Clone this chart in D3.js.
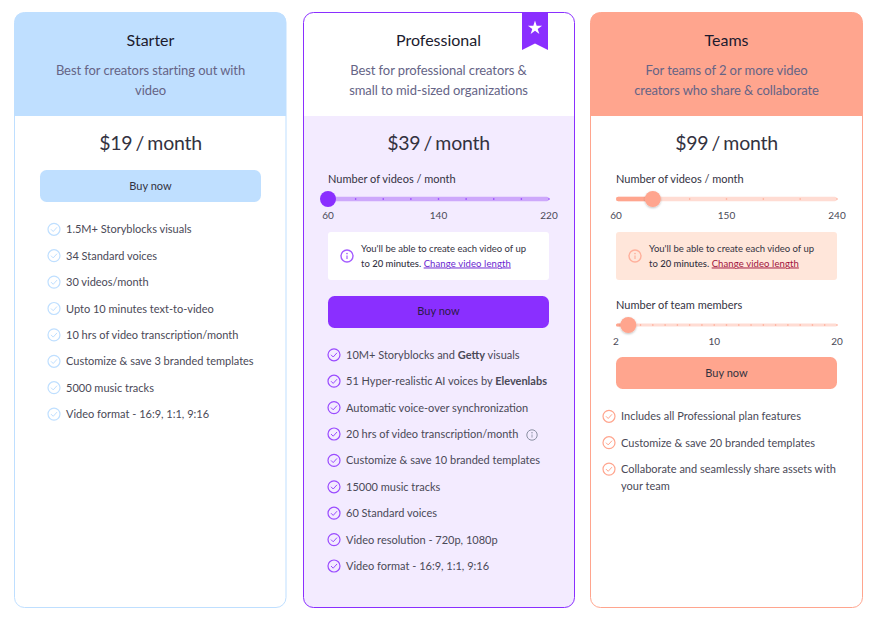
<!DOCTYPE html>
<html><head><meta charset="utf-8">
<script src="https://cdnjs.cloudflare.com/ajax/libs/d3/7.8.5/d3.min.js"></script>
<style>html,body{margin:0;padding:0;background:#fff}svg{display:block;font-family:Lato,sans-serif}</style>
</head><body><svg id="c" width="877" height="618"></svg>
<script>
const planNames = ["Starter","Professional","Teams"];
const planSubtitles = [
 ["Best for creators starting out with","video"],
 ["Best for professional creators &","small to mid-sized organizations"],
 ["For teams of 2 or more video","creators who share & collaborate"]];
const planPrices = ["$19 / month","$39 / month","$99 / month"];
const starterFeatures = ["1.5M+ Storyblocks visuals","34 Standard voices","30 videos/month","Upto 10 minutes text-to-video","10 hrs of video transcription/month","Customize & save 3 branded templates","5000 music tracks","Video format - 16:9, 1:1, 9:16"];
const proFeatures = ["10M+ Storyblocks and |Getty| visuals","51 Hyper-realistic AI voices by |Elevenlabs","Automatic voice-over synchronization","20 hrs of video transcription/month","Customize & save 10 branded templates","15000 music tracks","60 Standard voices","Video resolution - 720p, 1080p","Video format - 16:9, 1:1, 9:16"];
const teamFeatures = [["Includes all Professional plan features"],["Customize & save 20 branded templates"],["Collaborate and seamlessly share assets with","your team"]];
const proVideos = {label:"Number of videos / month",min:60,max:220,step:20,value:60,ticks:[60,140,220]};
const teamVideos = {label:"Number of videos / month",min:60,max:240,step:30,value:90,ticks:[60,150,240]};
const teamMembers = {label:"Number of team members",min:2,max:20,step:1,value:3,ticks:[2,10,20]};

const svg = d3.select("#c");
const defs = svg.append("defs");
const sh = defs.append("filter").attr("id","sh").attr("x","-50%").attr("y","-50%").attr("width","200%").attr("height","200%");
sh.append("feDropShadow").attr("dx",0).attr("dy",1).attr("stdDeviation",1).attr("flood-color","#000").attr("flood-opacity",.25);

const cardX = d3.scaleOrdinal().domain(planNames).range([14.5,303.5,590.5]);
const cardWs = [271.5,271,272];
const cardTop = 12.5, cardBottom = 607.5, headBottom = 116, R = 10;
const roundTop=(x,y,w,h,r)=>`M${x},${y+h}V${y+r}Q${x},${y} ${x+r},${y}H${x+w-r}Q${x+w},${y} ${x+w},${y+r}V${y+h}Z`;
const roundBot=(x,y,w,h,r)=>`M${x},${y}V${y+h-r}Q${x},${y+h} ${x+r},${y+h}H${x+w-r}Q${x+w},${y+h} ${x+w},${y+h-r}V${y}Z`;
const text=(g,x,y,t,size,fill,anchor,weight)=>g.append("text").attr("x",x).attr("y",y).text(t)
  .attr("font-size",size).attr("fill",fill).attr("text-anchor",anchor||"start").attr("font-weight",weight||400);

const styles = [
 {head:"#bfdfff",body:"#fff",border:"#bfdfff",btn:"#bfdfff",check:"#bfdfff"},
 {head:"#fff",body:"#f3ebff",border:"#8a2fff",btn:"#8a2fff",check:"#9a4bff"},
 {head:"#ffa58e",body:"#fff",border:"#ffa58e",btn:"#ffa58e",check:"#ffa58e"}];
const centers=[150.5,438.5,726.5];

planNames.forEach((name,i)=>{
  const x=cardX(name), w=cardWs[i], s=styles[i], g=svg.append("g"), cx=centers[i];
  g.append("path").attr("d",roundBot(x,headBottom,w,cardBottom-headBottom,R)).attr("fill",s.body);
  g.append("path").attr("d",roundTop(x,cardTop,w,headBottom-cardTop,R)).attr("fill",s.head);
  g.append("rect").attr("x",x).attr("y",cardTop).attr("width",w).attr("height",cardBottom-cardTop).attr("rx",R)
    .attr("fill","none").attr("stroke",s.border).attr("stroke-width",1);
  text(g,cx,46,name,16,"#1c1b2e","middle");
  planSubtitles[i].forEach((l,k)=>text(g,cx,75+k*20,l,13,"#656486","middle").attr("letter-spacing",-.08));
  text(g,cx,150,planPrices[i],19.5,"#33323f","middle").attr("word-spacing",-1.5).attr("letter-spacing",-.25);
});

// ribbon on the Professional card
const rib = svg.append("g");
rib.append("path").attr("d","M522,12.5H548V50L535,43.5L522,50Z").attr("fill","#8a2fff");
rib.append("path").attr("d",d3.symbol(d3.symbolStar,62)()).attr("transform","translate(535,28)").attr("fill","#fff");

function button(x,y,fill,color,dy){
  const g=svg.append("g");
  g.append("rect").attr("x",x).attr("y",y).attr("width",221).attr("height",32).attr("rx",6.5).attr("fill",fill);
  text(g,x+110.5,y+dy,"Buy now",11,color||"#33323f","middle");
}
button(40,170,styles[0].btn,null,20);
button(328,296,styles[1].btn,"#2c1a4a",19);
button(616,357,styles[2].btn,null,20);

function slider(cfg,x0,y,o){
  const g=svg.append("g"), sc=d3.scaleLinear().domain([cfg.min,cfg.max]).range([x0,x0+221]);
  text(g,x0,y-16,cfg.label,11,"#33323f");
  g.append("rect").attr("x",sc(cfg.min)).attr("width",sc(cfg.max)-sc(cfg.min)).attr("y",y-o.h/2).attr("height",o.h).attr("rx",o.h/2).attr("fill",o.rail);
  g.append("rect").attr("x",sc(cfg.min)).attr("width",sc(cfg.value)-sc(cfg.min)).attr("y",y-o.h/2).attr("height",o.h).attr("rx",o.h/2).attr("fill",o.fill);
  g.selectAll("circle.t").data(d3.range(cfg.min+cfg.step,cfg.max+.01,cfg.step)).join("circle").attr("class","t")
    .attr("cx",d=>sc(d)).attr("cy",y).attr("r",.8).attr("fill",o.dot);
  g.append("circle").attr("cx",sc(cfg.value)).attr("cy",y).attr("r",8).attr("fill",o.fill).attr("filter",o.shadow?"url(#sh)":null);
  cfg.ticks.forEach(t=>text(g,sc(t),y+20,t,10,"#4a4957","middle"));
}
slider(proVideos,328,199,{rail:"#cda8fb",fill:"#8a2fff",dot:"#8a2fff",h:4.5});
slider(teamVideos,616,199,{rail:"#ffdcd3",fill:"#ffa58e",dot:"#ffa58e",h:4.5,shadow:true});
slider(teamMembers,616,325,{rail:"#ffdcd3",fill:"#ffa58e",dot:"#ffa58e",h:3,shadow:true});

function infoIcon(g,x,y,r,c,sw){
  g.append("circle").attr("cx",x).attr("cy",y).attr("r",r).attr("fill","none").attr("stroke",c).attr("stroke-width",sw);
  g.append("circle").attr("cx",x).attr("cy",y-r*.42).attr("r",r*.14).attr("fill",c);
  g.append("line").attr("x1",x).attr("x2",x).attr("y1",y-r*.1).attr("y2",y+r*.5).attr("stroke",c).attr("stroke-width",sw*.85);
}
function note(x,y,bg,ic,link){
  const g=svg.append("g");
  g.append("rect").attr("x",x).attr("y",y).attr("width",221).attr("height",48).attr("rx",3).attr("fill",bg);
  infoIcon(g,x+19,y+24,6,ic,1.4);
  text(g,x+33,y+19.5,"You'll be able to create each video of up",9.5,"#33323f");
  const t=text(g,x+33,y+34.5,"",9.5,"#33323f");
  t.append("tspan").text("to ");
  t.append("tspan").text("20 minutes.").attr("font-weight",500);
  t.append("tspan").text(" ");
  t.append("tspan").text("Change video length").attr("fill",link).attr("text-decoration","underline").attr("letter-spacing",.1);
}
note(328,232,"#fff","#a45cff","#6a1fd0");
note(616,232,"#ffe6da","#ffb09c","#a0123a");

function check(g,x,y,c){
  g.append("circle").attr("cx",x).attr("cy",y).attr("r",6).attr("fill","none").attr("stroke",c).attr("stroke-width",1.2);
  g.append("path").attr("d",`M${x-3},${y}L${x-.8},${y+2.2}L${x+3},${y-2}`).attr("fill","none").attr("stroke",c).attr("stroke-width",1);
}
function featureText(g,x,y,s,color){
  const t=text(g,x,y,"",11,color);
  s.split("|").forEach((p,i)=>t.append("tspan").text(p).attr("font-weight",i%2?700:400));
}
const fy=(y0)=>d3.scaleLinear().domain([0,1]).range([y0,y0+26.4]);
const sy=fy(229.3), py=fy(354.8), ty=fy(416.3);
const g1=svg.append("g");
starterFeatures.forEach((f,i)=>{check(g1,54,sy(i),"#bfdfff");featureText(g1,66,sy(i)+4,f,"#4a4957");});
const g2=svg.append("g");
proFeatures.forEach((f,i)=>{check(g2,334,py(i),styles[1].check);featureText(g2,346,py(i)+4,f,"#4a4957");});
infoIcon(g2,532,py(3)+1,5.2,"#8a90a2",1);
const g3=svg.append("g");
teamFeatures.forEach((ls,i)=>{check(g3,609,ty(i),styles[2].check);ls.forEach((l,k)=>featureText(g3,621,ty(i)+4+k*17,l,"#4a4957"));});
</script></body></html>
